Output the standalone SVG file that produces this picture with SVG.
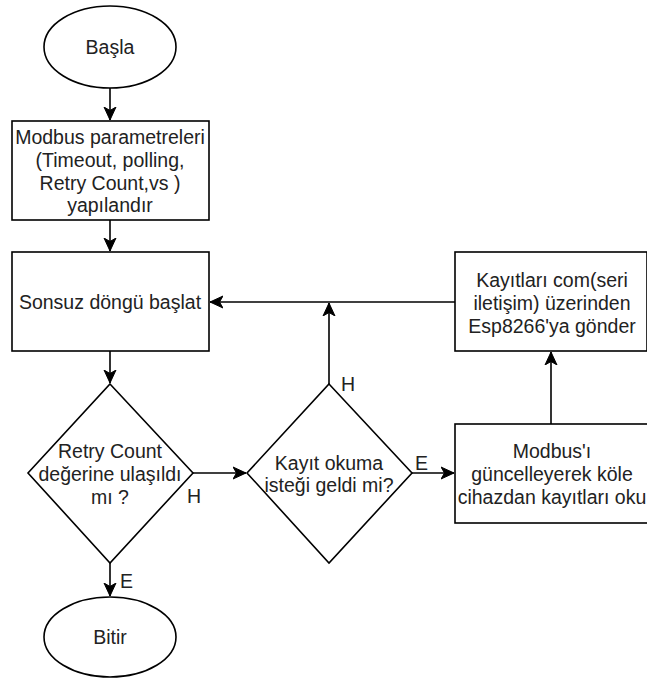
<svg xmlns="http://www.w3.org/2000/svg" width="647" height="682" viewBox="0 0 647 682">
<style>
.shape{fill:#fff;stroke:#000;stroke-width:1.6}
.t{font-family:"Liberation Sans",Arial,sans-serif;font-size:19.5px;fill:#222;text-anchor:middle}
.lbl{font-family:"Liberation Sans",Arial,sans-serif;font-size:19.5px;fill:#222;text-anchor:start}
.edge{fill:none;stroke:#000;stroke-width:1.6}
</style>
<defs>
<marker id="arr" markerUnits="userSpaceOnUse" markerWidth="14" markerHeight="14" viewBox="0 0 14 14" refX="13" refY="7" orient="auto">
<path d="M0,1 L13,7 L0,13 L3.5,7 z" fill="#000" stroke="#000" stroke-width="1"/>
</marker>
</defs>
<g id="connectors">
<path class="edge" d="M110,88 L110,120" marker-end="url(#arr)"/>
<path class="edge" d="M110,220 L110,251" marker-end="url(#arr)"/>
<path class="edge" d="M110,351 L110,383" marker-end="url(#arr)"/>
<path class="edge" d="M193,473 L246,473" marker-end="url(#arr)"/>
<path class="edge" d="M110,563 L110,596" marker-end="url(#arr)"/>
<path class="edge" d="M329,384 L329,303" marker-end="url(#arr)"/>
<path class="edge" d="M455,302 L210,302" marker-end="url(#arr)"/>
<path class="edge" d="M412,473 L454,473" marker-end="url(#arr)"/>
<path class="edge" d="M551,424 L551,352" marker-end="url(#arr)"/>
<text class="lbl" x="187" y="503">H</text>
<text class="lbl" x="120" y="588">E</text>
<text class="lbl" x="341" y="391">H</text>
<text class="lbl" x="415" y="470">E</text>
</g>
<g id="basla">
<ellipse class="shape" cx="110" cy="47" rx="66" ry="41"/>
<text class="t" x="110" y="54">Başla</text>
</g>
<g id="modbus-params">
<rect class="shape" x="12" y="121" width="197" height="99"/>
<text class="t" x="110" y="144">Modbus parametreleri</text>
<text class="t" x="110" y="167">(Timeout, polling,</text>
<text class="t" x="110" y="190">Retry Count,vs )</text>
<text class="t" x="110" y="212">yapılandır</text>
</g>
<g id="sonsuz">
<rect class="shape" x="12" y="252" width="197" height="99"/>
<text class="t" x="110" y="309">Sonsuz döngü başlat</text>
</g>
<g id="retry">
<path class="shape" d="M110,384 L193,473 L110,563 L28,473 Z"/>
<text class="t" x="110" y="458">Retry Count</text>
<text class="t" x="110" y="481">değerine ulaşıldı</text>
<text class="t" x="110" y="504">mı ?</text>
</g>
<g id="bitir">
<ellipse class="shape" cx="110" cy="637" rx="66" ry="40"/>
<text class="t" x="110" y="644">Bitir</text>
</g>
<g id="kayit-okuma">
<path class="shape" d="M329,384 L412,473 L329,563 L247,473 Z"/>
<text class="t" x="329" y="470">Kayıt okuma</text>
<text class="t" x="329" y="492">isteği geldi mi?</text>
</g>
<g id="kayitlari-gonder">
<rect class="shape" x="455" y="252" width="192" height="99"/>
<text class="t" x="552" y="287">Kayıtları com(seri</text>
<text class="t" x="552" y="310">iletişim) üzerinden</text>
<text class="t" x="552" y="333">Esp8266'ya gönder</text>
</g>
<g id="modbus-oku">
<rect class="shape" x="455" y="424" width="195" height="99"/>
<text class="t" x="552" y="458">Modbus'ı</text>
<text class="t" x="552" y="481">güncelleyerek köle</text>
<text class="t" x="552" y="504">cihazdan kayıtları oku</text>
</g>
</svg>
